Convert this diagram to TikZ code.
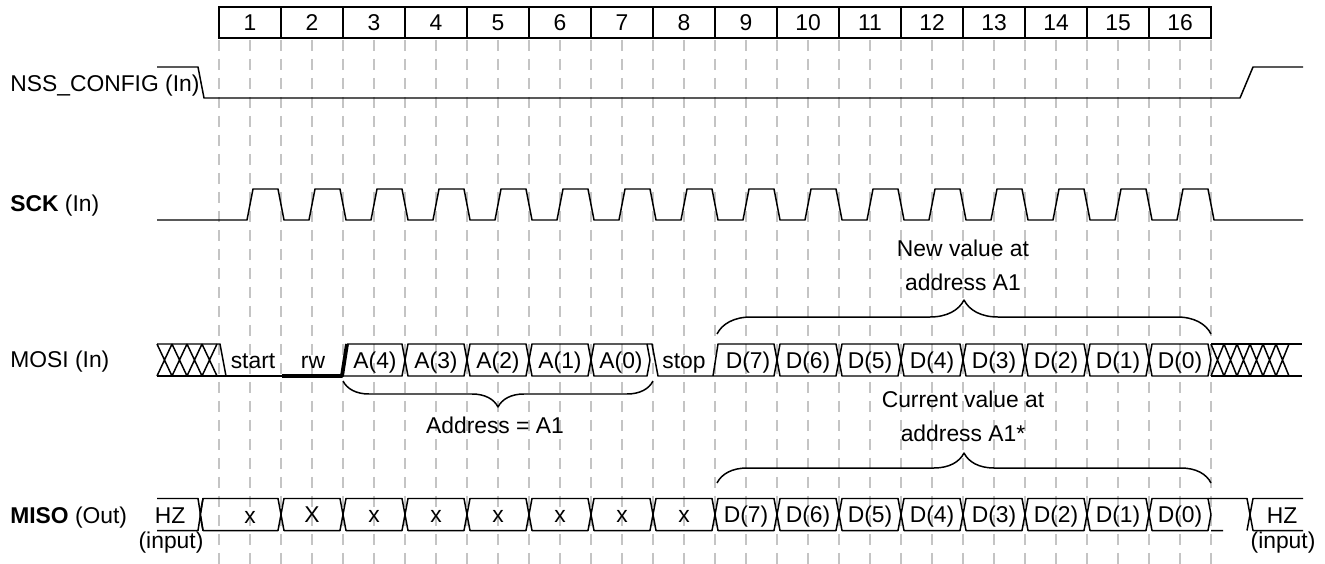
\documentclass[tikz,border=0pt]{standalone}
\usepackage{xcolor}
\usepackage{fontspec}
\setmainfont{Liberation Sans}
\usepackage{tikz}
\usetikzlibrary{decorations.pathreplacing,positioning}
\definecolor{grisGrille}{RGB}{196,196,196}

% cellule de bus : nom, x gauche, x droite, y milieu, texte
\newcommand{\cellule}[5]{%
  \draw[trace] (#2,#4) -- (#2+3,#4-16) -- (#3-3,#4-16) -- (#3,#4)
    -- (#3-3,#4+16) -- (#2+3,#4+16) -- cycle;
  \node[etiq] (#1) at ({(#2+#3)/2},#4+8) {#5};}

% bus indefini : x depart, nombre de croix, largeur, y milieu
\newcommand{\croix}[4]{%
  \foreach \j in {1,...,#2}
    {\draw[trace] (#1+#3*\j-#3,#4-16) -- (#1+#3*\j,#4+16)
                  (#1+#3*\j-#3,#4+16) -- (#1+#3*\j,#4-16);}}

\begin{document}
\begin{tikzpicture}[x=0.02cm,y=-0.02cm,font=\fontsize{13}{19.3}\selectfont,
  trace/.style={line width=0.85pt,line join=round},
  grille/.style={grisGrille,line width=1.1pt,dash pattern=on 0.22cm off 0.16cm},
  caseBit/.style={draw,line width=0.85pt,minimum width=1.24cm,minimum height=0.62cm,inner sep=0pt},
  etiq/.style={anchor=base,inner sep=0pt},
  nom/.style={anchor=base west,inner sep=0pt},
  accol/.style={trace,decorate,decoration={brace,amplitude=#1}}]

  \useasboundingbox (0,0) rectangle (1325,564);

  % grille pointillee
  \foreach \k in {0,...,32}
    \draw[grille] (219+31*\k,40) -- (219+31*\k,564);

  % compteur de bits
  \foreach \i in {1,...,16}
    \node[caseBit] (B\i) at (188+62*\i,22.5) {\i};

  % NSS_CONFIG
  \node[nom] (NSS) at (10,92) {NSS\_CONFIG (In)};
  \draw[trace] (157,67) -- (198,67) -- (204,98) -- (1240,98) -- (1253,67) -- (1303,67);

  % SCK
  \node[nom] (SCK) at (10,212) {\textbf{SCK} (In)};
  \draw[trace] (157,220)
    \foreach \i in {0,...,15} {-- (247+62*\i,220) -- (253+62*\i,189) -- (278+62*\i,189) -- (284+62*\i,220)}
    -- (1303,220);

  % MOSI
  \node[nom] (MOSI) at (10,367) {MOSI (In)};
  \croix{157}{4}{15}{360}
  \draw[trace] (157,344) -- (220,344) -- (226,376);
  \draw[trace] (157,376) -- (282,376);
  \node[etiq] (START) at (253,368) {start};
  \draw[trace,line width=2.2pt] (282,376) -- (342,376) -- (347,344);
  \node[etiq] (RW) at (313,368) {rw};
  \draw[trace] (347,344) -- (402,344) -- (405,360) -- (402,376) -- (342,376);
  \node[etiq] (A4) at (375,368) {A(4)};
  \cellule{A3}{405}{467}{360}{A(3)}
  \cellule{A2}{467}{529}{360}{A(2)}
  \cellule{A1}{529}{591}{360}{A(1)}
  \draw[trace] (591,360) -- (594,344) -- (652,344) -- (658,376) -- (713,376) -- (718,344)
    -- (774,344) -- (777,360) -- (774,376) -- (713,376);
  \draw[trace] (591,360) -- (594,376) -- (647,376) -- (650,360) -- (647,344);
  \node[etiq] (A0) at (621,368) {A(0)};
  \node[etiq] (STOP) at (684,368) {stop};
  \node[etiq] (MOSID7) at (748,368) {D(7)};
  \foreach \b [count=\i] in {6,5,4,3,2,1,0}
    {\cellule{MOSID\b}{715+62*\i}{777+62*\i}{360}{D(\b)}}
  \croix{1211}{6}{13}{360}
  \draw[trace] (1211,344) -- (1302,344) (1211,376) -- (1302,376);

  % MISO
  \node[nom] (MISO) at (10,523) {\textbf{MISO} (Out)};
  \draw[trace] (157,498.5) -- (198,498.5) -- (203,530.5) (157,530.5) -- (198,530.5) -- (203,498.5);
  \node[etiq] (HZG) at (170,523) {HZ};
  \node[etiq] (ENTG) at (171,548) {(input)};
  \draw[trace] (200,514.5) -- (203,498.5) -- (278,498.5) -- (281,514.5) -- (278,530.5) -- (203,530.5) -- cycle;
  \node[etiq] (X1) at (250,523) {x};
  \cellule{X2}{281}{343}{514.5}{X}
  \foreach \i in {3,...,8}
    {\cellule{X\i}{157+62*\i}{219+62*\i}{514.5}{x}}
  \foreach \b [count=\i from 9] in {7,6,5,4,3,2,1,0}
    {\cellule{MISOD\b}{157+62*\i}{219+62*\i}{514.5}{D(\b)}}
  \draw[trace] (1208,498.5) -- (1247,498.5) -- (1253,530.5) -- (1303,530.5)
    (1211,530.5) -- (1223,530.5) (1247,530.5) -- (1253,498.5) -- (1303,498.5);
  \node[etiq] (HZD) at (1282,523) {HZ};
  \node[etiq] (ENTD) at (1283,548) {(input)};

  % accolades
  \draw[accol=0.68cm] (717,334) -- (1211,334);
  \node[align=center] (NOUV) at (963,265) {New value at\\address A1};
  \draw[accol=0.52cm] (653,381) -- (343,381);
  \node (ADR) at (495,425) {Address = A1};
  \draw[accol=0.6cm] (717,483) -- (1211,483);
  \node[align=center] (COUR) at (963,416) {Current value at\\address A1*};
\end{tikzpicture}
\end{document}
